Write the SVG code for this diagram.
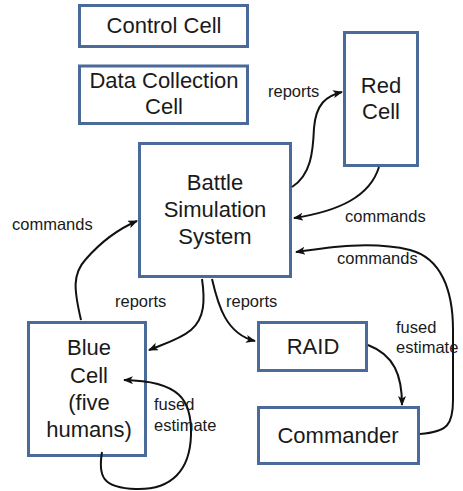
<svg xmlns="http://www.w3.org/2000/svg" width="463" height="491" viewBox="0 0 463 491">
<style>
.box{fill:#fff;stroke:#4a6a9a;stroke-width:3}
.nt{font-family:"Liberation Sans",Arial,sans-serif;font-size:22px;fill:#1a1a1a;text-anchor:middle}
.lb{font-family:"Liberation Sans",Arial,sans-serif;font-size:16.5px;fill:#1a1a1a}
.c{fill:none;stroke:#111;stroke-width:2;marker-end:url(#ah)}
</style>
<defs>
<marker id="ah" markerWidth="10" markerHeight="8" refX="9" refY="4" orient="auto" markerUnits="userSpaceOnUse">
<path d="M0,0 L10,4 L0,8 L2.5,4 Z" fill="#111"/>
</marker>
</defs>
<rect width="463" height="491" fill="#fff"/>
<g id="control-cell"><rect class="box" x="79.5" y="5.5" width="168" height="41"/><text class="nt" x="164" y="33">Control Cell</text></g>
<g id="data-collection-cell"><rect class="box" x="79.5" y="66" width="168" height="57.5"/><text class="nt" x="164" y="88">Data Collection</text><text class="nt" x="164" y="114">Cell</text></g>
<g id="red-cell"><rect class="box" x="344.5" y="32.5" width="73" height="133"/><text class="nt" x="381" y="93">Red</text><text class="nt" x="381" y="119">Cell</text></g>
<g id="battle-simulation-system"><rect class="box" x="139.5" y="143.5" width="151" height="133"/><text class="nt" x="215" y="190">Battle</text><text class="nt" x="215" y="217">Simulation</text><text class="nt" x="215" y="244">System</text></g>
<g id="blue-cell"><rect class="box" x="28.5" y="322.5" width="117" height="133"/><text class="nt" x="89" y="355">Blue</text><text class="nt" x="89" y="383">Cell</text><text class="nt" x="89" y="410">(five</text><text class="nt" x="89" y="437">humans)</text></g>
<g id="raid"><rect class="box" x="258.5" y="322.5" width="108" height="48"/><text class="nt" x="313" y="354">RAID</text></g>
<g id="commander"><rect class="box" x="258.5" y="407.5" width="160" height="56"/><text class="nt" x="338" y="443">Commander</text></g>
<g id="connectors">
<path class="c" d="M292,187 C311,175 313,152 314,128 C316,104 326,96 342,92"/>
<path class="c" d="M379,167 C370,196 340,211 294,218"/>
<path class="c" d="M420,434 C448,432 453,424 453,400 L453,330 C453,290 441,258 410,250 C372,241 330,247 296,252"/>
<path class="c" d="M81,320 C74,290 72,274 86,259 C100,243 116,230 137,221"/>
<path class="c" d="M202,279 C205,300 205,318 191,330 C179,340 163,344 149,350"/>
<path class="c" d="M212,279 C218,305 226,334 255,341"/>
<path class="c" d="M368,345 C394,355 402,375 402,405"/>
<path class="c" d="M102,452 C98,476 102,488 136,489 C172,490 190,470 191,435 C192,400 180,381 124,380"/>
<text class="lb" x="268" y="97">reports</text>
<text class="lb" x="345" y="222">commands</text>
<text class="lb" x="337" y="264">commands</text>
<text class="lb" x="12" y="230">commands</text>
<text class="lb" x="115" y="307">reports</text>
<text class="lb" x="226" y="307">reports</text>
<text class="lb" x="396" y="333">fused</text>
<text class="lb" x="396" y="353">estimate</text>
<text class="lb" x="154" y="410">fused</text>
<text class="lb" x="154" y="431">estimate</text>
</g>
</svg>
